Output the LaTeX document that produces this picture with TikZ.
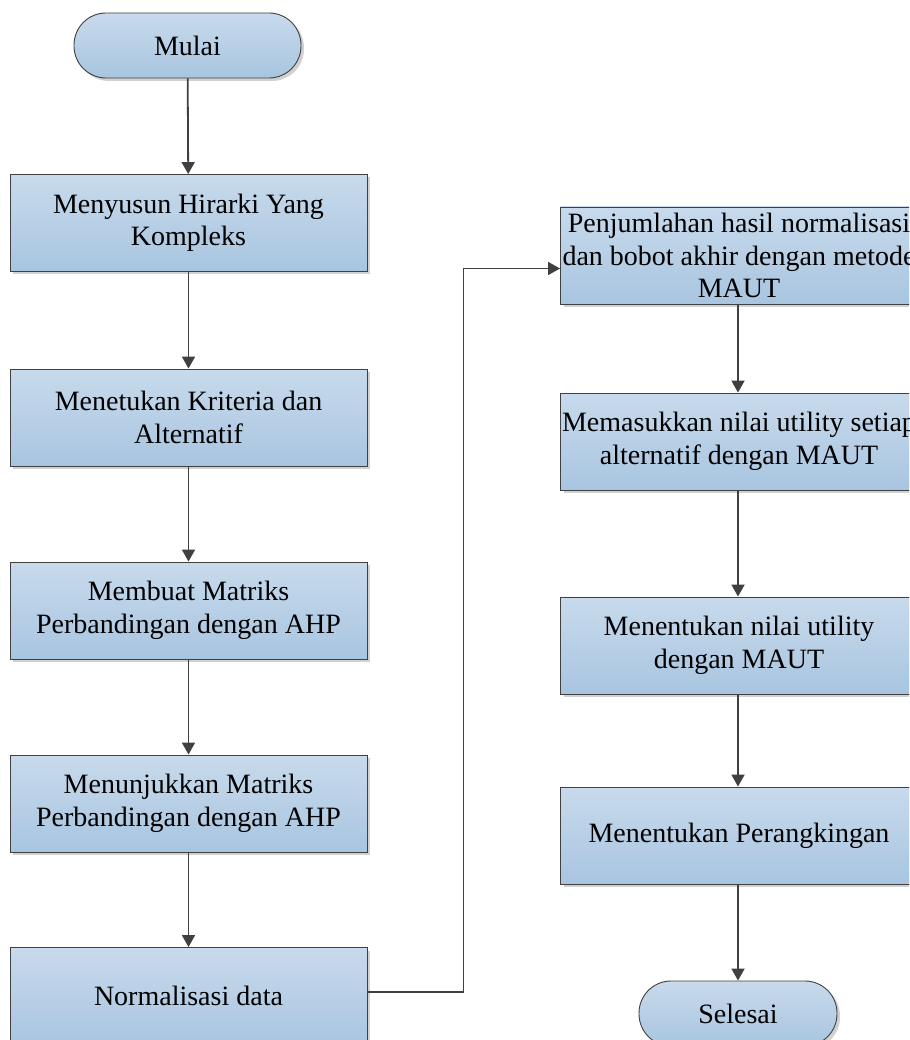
\documentclass[tikz,border=0pt]{standalone}
\usepackage{fontspec}
\setmainfont{Liberation Serif}
\usetikzlibrary{arrows.meta,shadows}
\definecolor{boxtop}{HTML}{C8DAEC}
\definecolor{boxbot}{HTML}{A8C5E0}
\definecolor{edgec}{HTML}{404040}
\begin{document}
\begin{tikzpicture}[x=1pt,y=-1pt,
  basebox/.style={draw=edgec, line width=0.9pt, top color=boxtop, bottom color=boxbot,
    align=center, font=\fontsize{28}{32.5}\selectfont, inner sep=0pt,
    drop shadow={shadow xshift=3pt,shadow yshift=-3pt,fill=black!30,opacity=0.6}},
  procbox/.style={basebox, rectangle, minimum width=357pt, minimum height=97pt},
  termbox/.style={basebox, rectangle, rounded corners=32pt, minimum height=65pt},
  flow/.style={draw=edgec, line width=1.8pt, -{Triangle[length=12pt,width=13pt]}}]
\useasboundingbox (0,0) rectangle (909,1040);
\clip (0,0) rectangle (909,1040);
\node[termbox, minimum width=227pt] (start) at (187.5,45.5) {Mulai};
\node[procbox] (n1) at (188.5,223) {Menyusun Hirarki Yang\\Kompleks};
\node[procbox] (n2) at (188.5,417.5) {Menetukan Kriteria dan\\Alternatif};
\node[procbox] (n3) at (188.5,610.5) {Membuat Matriks\\Perbandingan dengan AHP};
\node[procbox] (n4) at (188.5,803.5) {Menunjukkan Matriks\\Perbandingan dengan AHP};
\node[procbox] (n5) at (188.5,996) {Normalisasi data};
\node[procbox] (p1) at (739,255.5) {Penjumlahan hasil normalisasi\\dan bobot akhir dengan metode\\MAUT};
\node[procbox] (p2) at (739,441.5) {Memasukkan nilai utility setiap\\alternatif dengan MAUT};
\node[procbox] (p3) at (739,645.5) {Menentukan nilai utility\\dengan MAUT};
\node[procbox] (p4) at (739,835.5) {Menentukan Perangkingan};
\node[termbox, minimum width=198pt] (stop) at (738,1013.5) {Selesai};
\draw[flow] (start) -- (n1);
\draw[flow] (n1) -- (n2);
\draw[flow] (n2) -- (n3);
\draw[flow] (n3) -- (n4);
\draw[flow] (n4) -- (n5);
\draw[flow] ([yshift=4pt]n5.east) -- ++(96,0) |- ([yshift=-13pt]p1.west);
\draw[flow] (p1.south -| stop) -- (p2.north -| stop);
\draw[flow] (p2.south -| stop) -- (p3.north -| stop);
\draw[flow] (p3.south -| stop) -- (p4.north -| stop);
\draw[flow] (p4.south -| stop) -- (stop);
\end{tikzpicture}
\end{document}
